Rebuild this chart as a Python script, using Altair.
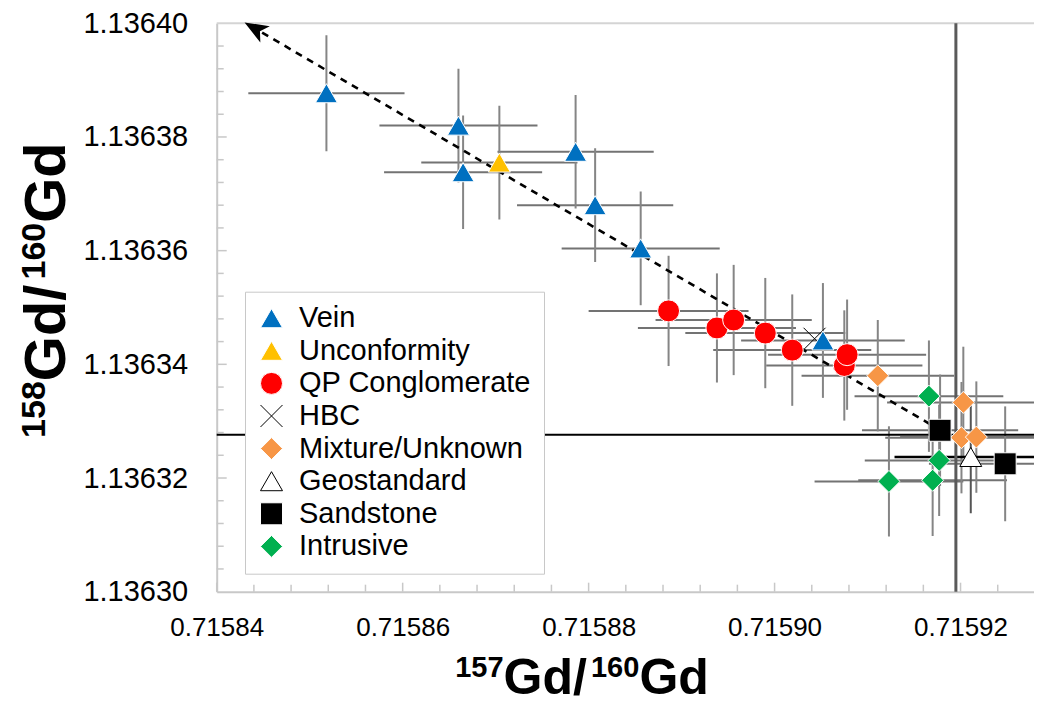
import altair as alt
import pandas as pd

# ---------------- data ----------------
categories = ["Vein", "Unconformity", "QP Conglomerate", "HBC",
              "Mixture/Unknown", "Geostandard", "Sandstone", "Intrusive"]

vein_x = [0.7158518, 0.7158660, 0.7158665, 0.7158786, 0.7158807, 0.7158856, 0.7159052]
vein_y = [1.1363877, 1.1363820, 1.1363738, 1.1363774, 1.1363680, 1.1363604, 1.1363442]
vein_xe = [0.0000084, 0.0000085, 0.0000085, 0.0000084, 0.0000084, 0.0000085, 0.0000088]
vein_ye = [0.0000102, 0.0000100, 0.0000100, 0.0000100, 0.0000100, 0.0000100, 0.0000101]

unc_x = [0.7158704]
unc_y = [1.1363755]
unc_xe = [0.0000084]
unc_ye = [0.0000100]

qp_x = [0.7158886, 0.7158938, 0.7158956, 0.7158990, 0.7159019, 0.7159075, 0.7159078]
qp_y = [1.1363494, 1.1363464, 1.1363478, 1.1363455, 1.1363425, 1.1363398, 1.1363417]
qp_xe = [0.0000086, 0.0000085, 0.0000084, 0.0000086, 0.0000085, 0.0000084, 0.0000085]
qp_ye = [0.0000097, 0.0000096, 0.0000097, 0.0000097, 0.0000098, 0.0000097, 0.0000097]

hbc_x = [0.7159043]
hbc_y = [1.1363445]

mix_x = [0.7159111, 0.7159203, 0.7159201, 0.7159217]
mix_y = [1.1363380, 1.1363333, 1.1363271, 1.1363272]
mix_xe = [0.0000082, 0.0000082, 0.0000082, 0.0000082]
mix_ye = [0.0000098, 0.0000098, 0.0000098, 0.0000098]

geo_x = [0.7159211]
geo_y = [1.1363237]
geo_xe = [0.0000082]
geo_ye = [0.0000099]

sand_x = [0.7159178, 0.7159248]
sand_y = [1.1363284, 1.1363225]
sand_xe = [0.0000084, 0.0000082]
sand_ye = [0.0000098, 0.0000101]

intr_x = [0.7159166, 0.7159177, 0.7159123, 0.7159170]
intr_y = [1.1363344, 1.1363231, 1.1363194, 1.1363196]
intr_xe = [0.0000080, 0.0000080, 0.0000080, 0.0000080]
intr_ye = [0.0000098, 0.0000098, 0.0000097, 0.0000098]

# trend arrow (start near sandstone, head at upper left)
arrow_x = [0.7159167, 0.7158436]
arrow_y = [1.1363295, 1.1363996]
arrow_head_x = [0.7158441]
arrow_head_y = [1.1363991]

# reference values
ref_x = [0.7159195]
ref_y = [1.1363276]

# axis ticks
x_major = [0.71584, 0.71586, 0.71588, 0.71590, 0.71592]
x_minor = [0.715844, 0.715848, 0.715852, 0.715856, 0.715864, 0.715868, 0.715872,
           0.715876, 0.715884, 0.715888, 0.715892, 0.715896, 0.715904, 0.715908,
           0.715912, 0.715916, 0.715924]
y_major = [1.13632, 1.13634, 1.13636, 1.13638]
y_minor = [1.136304, 1.136308, 1.136312, 1.136316, 1.136324, 1.136328, 1.136332,
           1.136336, 1.136344, 1.136348, 1.136352, 1.136356, 1.136364, 1.136368,
           1.136372, 1.136376, 1.136384, 1.136388, 1.136392, 1.136396]
y_labels = [1.13630, 1.13632, 1.13634, 1.13636, 1.13638, 1.13640]

# axis title pieces (mass numbers are superscripts)
x_title_parts = ["157", "Gd/", "160", "Gd"]
y_title_parts = ["158", "Gd/", "160", "Gd"]

# ---------------- tables ----------------
def rows(cat, xs, ys, xe=None, ye=None):
    out = []
    for i, (a, b) in enumerate(zip(xs, ys)):
        r = {"cat": cat, "x": a, "y": b}
        if xe is not None:
            r.update(x_lo=a - xe[i], x_hi=a + xe[i], y_lo=b - ye[i], y_hi=b + ye[i])
        out.append(r)
    return out

pts = (rows("HBC", hbc_x, hbc_y)
       + rows("Vein", vein_x, vein_y, vein_xe, vein_ye)
       + rows("Unconformity", unc_x, unc_y, unc_xe, unc_ye)
       + rows("QP Conglomerate", qp_x, qp_y, qp_xe, qp_ye)
       + rows("Mixture/Unknown", mix_x, mix_y, mix_xe, mix_ye)
       + rows("Geostandard", geo_x, geo_y, geo_xe, geo_ye)
       + rows("Sandstone", sand_x, sand_y, sand_xe, sand_ye)
       + rows("Intrusive", intr_x, intr_y, intr_xe, intr_ye))
df = pd.DataFrame(pts)
df["order"] = range(len(df))
err = df.dropna(subset=["x_lo"])
err_gray = err[err["cat"] != "Geostandard"]
err_geo = err[err["cat"] == "Geostandard"]

arrow_df = pd.DataFrame({"x": arrow_x, "y": arrow_y, "o": [0, 1]})
head_df = pd.DataFrame({"x": arrow_head_x, "y": arrow_head_y})
refx_df = pd.DataFrame({"x": ref_x})
refy_df = pd.DataFrame({"y": ref_y})
xmaj_df = pd.DataFrame({"x": x_major})
xmin_df = pd.DataFrame({"x": x_minor})
ymaj_df = pd.DataFrame({"y": y_major})
ymin_df = pd.DataFrame({"y": y_minor})
one = pd.DataFrame({"k": [0]})

# ---------------- scales / axes ----------------
W = 817.3
H = 568.4
xscale = alt.Scale(domain=[0.71584, 0.7159279], nice=False, zero=False)
yscale = alt.Scale(domain=[1.13630, 1.13640], nice=False, zero=False)

xaxis = alt.Axis(values=x_major, format=".5f", ticks=False, tickSize=0, grid=False,
                 domainColor="#c8c8c8", domainWidth=2,
                 labelFont="Liberation Sans", labelFontSize=26, labelColor="black",
                 labelPadding=23, labelFlush=False, labelOverlap=False, title=None)
yaxis = alt.Axis(values=y_labels, format=".5f", ticks=False, tickSize=0, grid=False,
                 domainColor="#c8c8c8", domainWidth=2,
                 labelFont="Liberation Sans", labelFontSize=29, labelColor="black",
                 labelPadding=29, labelFlush=False, labelOverlap=False, title=None)

def X(f):
    return alt.X(f, type="quantitative", scale=xscale, axis=xaxis)

def Y(f):
    return alt.Y(f, type="quantitative", scale=yscale, axis=yaxis)

# ---------------- layers ----------------
top_border = alt.Chart(one).mark_rule(color="#d4d4d4", strokeWidth=2).encode(
    x=alt.value(0), x2=alt.value(W), y=alt.value(0))

xt_min = alt.Chart(xmin_df).mark_rule(color="#c8c8c8", strokeWidth=1.5).encode(
    x=X("x"), y=alt.value(H), y2=alt.value(H - 7))
xt_maj = alt.Chart(xmaj_df).mark_rule(color="#c8c8c8", strokeWidth=1.5).encode(
    x=X("x"), y=alt.value(H), y2=alt.value(H - 9))
yt_min = alt.Chart(ymin_df).mark_rule(color="#c8c8c8", strokeWidth=1.5).encode(
    y=Y("y"), x=alt.value(0), x2=alt.value(7))
yt_maj = alt.Chart(ymaj_df).mark_rule(color="#c8c8c8", strokeWidth=1.5).encode(
    y=Y("y"), x=alt.value(0), x2=alt.value(10))

hbar = alt.Chart(err_gray).mark_rule(color="#737373", strokeWidth=2, clip=True).encode(
    x=X("x_lo"), x2="x_hi", y=Y("y"))
vbar = alt.Chart(err_gray).mark_rule(color="#858585", strokeWidth=2, clip=True).encode(
    x=X("x"), y=Y("y_lo"), y2="y_hi")
hbar_geo = alt.Chart(err_geo).mark_rule(color="black", strokeWidth=2.5, clip=True).encode(
    x=X("x_lo"), x2="x_hi", y=Y("y"))
vbar_geo = alt.Chart(err_geo).mark_rule(color="#555555", strokeWidth=2, clip=True).encode(
    x=X("x"), y=Y("y_lo"), y2="y_hi")

ref_v = alt.Chart(refx_df).mark_rule(color="#5a5a5a", strokeWidth=3).encode(x=X("x"))
ref_h = alt.Chart(refy_df).mark_rule(color="black", strokeWidth=2).encode(y=Y("y"))

arrow = alt.Chart(arrow_df).mark_line(color="black", strokeWidth=2.6, strokeDash=[7, 6]).encode(
    x=X("x"), y=Y("y"), order="o:Q")
head = alt.Chart(head_df).mark_point(
    shape="M0,-1L0.8,1L0,0.5L-0.8,1Z", filled=True, color="black",
    size=560, angle=300, opacity=1).encode(x=X("x"), y=Y("y"))

shapes = ["triangle-up", "triangle-up", "circle", "M-1,-1L1,1M-1,1L1,-1",
          "diamond", "triangle-up", "square", "diamond"]
fills = ["#0070C0", "#FFC000", "#FF0000", "#000000", "#F79646", "#FFFFFF", "#000000", "#00B050"]
strokes = ["#FFFFFF", "#FFFFFF", "#FFFFFF", "#000000", "#FFFFFF", "#000000", "#FFFFFF", "#FFFFFF"]
sizes = [484, 484, 450, 600, 400, 484, 529, 400]
swidths = [1, 1, 1, 2, 1, 2, 1, 1]

leg = alt.Legend(title=None, orient="none", legendX=28.3, legendY=268.4,
                 fillColor="white", strokeColor="#c8c8c8", padding=12,
                 labelFont="Liberation Sans", labelFontSize=29, labelColor="black",
                 labelOffset=13, symbolSize=150, rowPadding=2.6, symbolStrokeWidth=1.5,
                 labelLimit=400)

points = alt.Chart(df).mark_point(filled=True, opacity=1).encode(
    x=X("x"), y=Y("y"),
    color=alt.Color("cat:N", scale=alt.Scale(domain=categories, range=fills), legend=leg),
    shape=alt.Shape("cat:N", scale=alt.Scale(domain=categories, range=shapes), legend=leg),
    stroke=alt.Stroke("cat:N", scale=alt.Scale(domain=categories, range=strokes), legend=leg),
    size=alt.Size("cat:N", scale=alt.Scale(domain=categories, range=sizes), legend=None),
    strokeWidth=alt.StrokeWidth("cat:N", scale=alt.Scale(domain=categories, range=swidths),
                                legend=None),
    order="order:Q",
)

# axis titles built from text pieces so that mass numbers are true superscripts
BIG = 50
SMALL = 29
tx = [238.5, 286.9, 374.3, 422.7]
xt_layers = []
for i, t in enumerate(x_title_parts):
    sup = i % 2 == 0
    xt_layers.append(
        alt.Chart(one).mark_text(
            text=t, font="Liberation Sans", fontWeight="bold",
            fontSize=SMALL if sup else BIG, align="left", baseline="alphabetic",
            color="black").encode(x=alt.value(tx[i]), y=alt.value(653.8 if sup else 670.7)))

BIGY = 58
SMALLY = 34
ty = [414.6, 357.9, 256.2, 199.5]
yt_layers = []
for i, t in enumerate(y_title_parts):
    sup = i % 2 == 0
    yt_layers.append(
        alt.Chart(one).mark_text(
            text=t, font="Liberation Sans", fontWeight="bold", angle=270,
            fontSize=SMALLY if sup else BIGY, align="left", baseline="alphabetic",
            color="black").encode(x=alt.value(-171.4 if sup else -151.7), y=alt.value(ty[i])))

chart = alt.layer(
    top_border, xt_min, xt_maj, yt_min, yt_maj,
    hbar, vbar, hbar_geo, vbar_geo, ref_v, ref_h, arrow, head, points,
    *xt_layers, *yt_layers
).properties(
    width=W, height=H,
    padding={"left": 208.7, "top": 15.3, "right": 0, "bottom": 113},
    autosize=alt.AutoSizeParams(type="none"),
).configure_view(stroke=None)

chart.save("out.html", embed_options={"renderer": "svg", "actions": False})
